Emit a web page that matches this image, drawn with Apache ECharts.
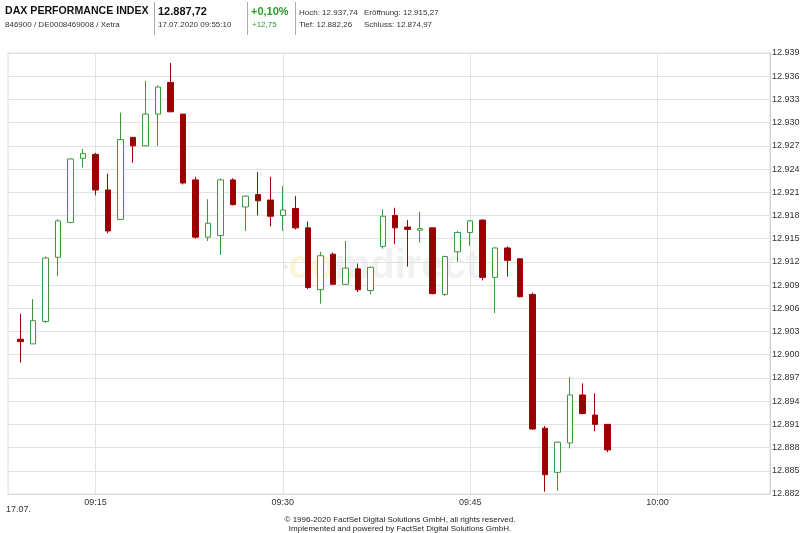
<!DOCTYPE html>
<html>
<head>
<meta charset="utf-8">
<script src="https://cdn.jsdelivr.net/npm/echarts@6/dist/echarts.min.js"></script>
<style>
html,body{margin:0;padding:0;background:#fff;}
#chart{width:800px;height:533px;}
</style>
</head>
<body>
<div id="chart"></div>
<script>
// categories: one per minute from 09:08 to 10:09
const times = [];
for (let m = 8; m <= 69; m++) {
  const h = 9 + Math.floor(m / 60), mm = m % 60;
  times.push(String(h).padStart(2, '0') + ':' + String(mm).padStart(2, '0'));
}
const firstCandle = '09:09';
const opens = [12902.0,12901.4,12904.3,12912.6,12917.1,12925.4,12925.9,12921.3,12917.5,12928.1,12927.0,12931.1,12935.2,12931.1,12922.6,12915.2,12915.4,12922.6,12919.1,12920.7,12920.0,12918.0,12918.9,12916.4,12908.4,12913.0,12909.1,12911.1,12908.3,12914.0,12918.0,12916.5,12916.1,12916.4,12907.8,12913.3,12915.8,12917.4,12910.0,12913.8,12912.4,12907.8,12890.5,12884.8,12888.6,12894.8,12892.2,12891.0];
const closes = [12901.7,12904.4,12912.5,12917.3,12925.3,12926.0,12921.3,12916.0,12927.8,12927.0,12931.1,12934.6,12931.4,12922.2,12915.2,12917.0,12922.6,12919.4,12920.5,12919.9,12917.9,12918.7,12916.4,12908.7,12912.8,12909.1,12911.2,12908.4,12911.3,12917.9,12916.4,12916.2,12916.3,12907.9,12912.7,12915.8,12917.3,12910.0,12913.8,12912.2,12907.5,12890.4,12884.5,12888.7,12894.8,12892.4,12891.0,12887.7];
const lows = [12899.0,12901.4,12904.1,12910.2,12917.0,12924.2,12920.6,12915.7,12917.5,12924.8,12927.0,12927.0,12931.4,12922.0,12915.0,12914.7,12912.9,12919.3,12916.0,12918.0,12916.6,12916.0,12916.2,12908.5,12906.6,12909.0,12909.1,12908.1,12907.8,12913.7,12914.3,12911.4,12914.5,12907.8,12907.6,12912.0,12914.1,12909.6,12905.4,12910.1,12907.4,12890.3,12882.3,12882.4,12887.9,12892.3,12890.1,12887.4];
const highs = [12905.3,12907.2,12912.7,12917.5,12925.4,12926.6,12926.1,12923.4,12931.3,12928.1,12935.4,12934.8,12937.7,12931.1,12923.0,12920.1,12922.8,12922.8,12920.6,12923.6,12923.0,12921.8,12920.5,12917.2,12913.3,12913.2,12914.7,12911.8,12911.4,12918.8,12919.0,12917.4,12918.5,12916.4,12912.8,12916.0,12917.4,12917.5,12913.9,12914.0,12912.5,12908.0,12890.8,12888.8,12897.1,12896.3,12895.0,12891.0];
const xTickLabels = ['09:15','09:30','09:45','10:00'];
const yMin = 12882, yMax = 12939, yStep = 3;

const offset = times.indexOf(firstCandle);
const candleData = times.map((t, i) => {
  const k = i - offset;
  if (k >= 0 && k < opens.length) return [opens[k], closes[k], lows[k], highs[k]];
  return ['-', '-', '-', '-'];
});

function fmtNum(v) {
  const s = String(Math.round(v));
  return s.slice(0, s.length - 3) + '.' + s.slice(-3);
}

const chart = echarts.init(document.getElementById('chart'), null, {renderer: 'canvas'});
const F = '"Liberation Sans", Arial, sans-serif';
const FN = '"Liberation Sans Narrow", "Liberation Sans", Arial, sans-serif';
const isTick = (i, v) => xTickLabels.indexOf(v) >= 0;

chart.setOption({
  animation: false,
  backgroundColor: '#fff',
  grid: {left: 8, right: 30, top: 53, bottom: 39, show: true, borderColor: '#dcdcdc', borderWidth: 1,
         containLabel: false, outerBoundsMode: 'none'},
  xAxis: {
    type: 'category',
    data: times,
    boundaryGap: false,
    axisLine: {show: true, lineStyle: {color: '#dcdcdc'}},
    axisTick: {show: false},
    axisLabel: {interval: isTick, fontFamily: F, fontSize: 9, color: '#333', margin: 4},
    splitLine: {show: true, interval: isTick, lineStyle: {color: '#e2e2e2'}}
  },
  yAxis: {
    type: 'value',
    position: 'right',
    min: yMin, max: yMax, interval: yStep,
    axisLine: {show: true, lineStyle: {color: '#d0d0d0'}},
    axisTick: {show: false},
    axisLabel: {formatter: fmtNum, fontFamily: F, fontSize: 9, color: '#333', margin: 2},
    splitLine: {show: true, lineStyle: {color: '#e2e2e2'}}
  },
  graphic: [
    {type: 'text', z: 0, silent: true, left: 283, top: 247, style: {
      text: '{d|▪}{y|co}{g|mdirect}', font: 'bold 40px ' + F,
      rich: {d: {fill: '#eaeaea', fontSize: 14, fontWeight: 'bold', fontFamily: F},
             y: {fill: '#fcf5da', fontSize: 40, fontWeight: 'bold', fontFamily: F},
             g: {fill: '#f1f1f1', fontSize: 40, fontWeight: 'bold', fontFamily: F}}
    }},
    {type: 'text', left: 5, top: 6, style: {text: 'DAX PERFORMANCE INDEX', font: 'bold 10.6px ' + F, fill: '#111'}},
    {type: 'text', left: 5, top: 21, style: {text: '846900 / DE0008469008 / Xetra', font: '8px ' + F, fill: '#333'}},
    {type: 'line', shape: {x1: 154.5, y1: 2, x2: 154.5, y2: 35}, style: {stroke: '#aaa', lineWidth: 1}},
    {type: 'text', left: 158, top: 6, style: {text: '12.887,72', font: 'bold 11px ' + F, fill: '#111'}},
    {type: 'text', left: 158, top: 21, style: {text: '17.07.2020 09:55:10', font: '8px ' + F, fill: '#333'}},
    {type: 'line', shape: {x1: 247.5, y1: 2, x2: 247.5, y2: 35}, style: {stroke: '#aaa', lineWidth: 1}},
    {type: 'text', left: 251, top: 6, style: {text: '+0,10%', font: 'bold 11px ' + F, fill: '#2a9a2a'}},
    {type: 'text', left: 252, top: 21, style: {text: '+12,75', font: '8px ' + F, fill: '#2a9a2a'}},
    {type: 'line', shape: {x1: 295.5, y1: 2, x2: 295.5, y2: 35}, style: {stroke: '#aaa', lineWidth: 1}},
    {type: 'text', left: 299, top: 9, style: {text: 'Hoch: 12.937,74', font: '8px ' + F, fill: '#333'}},
    {type: 'text', left: 364, top: 9, style: {text: 'Eröffnung: 12.915,27', font: '8px ' + F, fill: '#333'}},
    {type: 'text', left: 299, top: 21, style: {text: 'Tief: 12.882,26', font: '8px ' + F, fill: '#333'}},
    {type: 'text', left: 364, top: 21, style: {text: 'Schluss: 12.874,97', font: '8px ' + F, fill: '#333'}},
    {type: 'text', left: 6, top: 505, style: {text: '17.07.', font: '9px ' + F, fill: '#333'}},
    {type: 'text', left: 'center', top: 516, style: {text: '© 1996-2020 FactSet Digital Solutions GmbH, all rights reserved.', font: '8px ' + FN, fill: '#222'}},
    {type: 'text', left: 'center', top: 525, style: {text: 'Implemented and powered by FactSet Digital Solutions GmbH.', font: '8px ' + FN, fill: '#222'}}
  ],
  series: [{
    type: 'candlestick',
    data: candleData,
    barWidth: 6,
    itemStyle: {color: '#ffffff', color0: '#990000', borderColor: '#3a9a3a', borderColor0: '#a00000', borderWidth: 1}
  }]
});
</script>
</body>
</html>
